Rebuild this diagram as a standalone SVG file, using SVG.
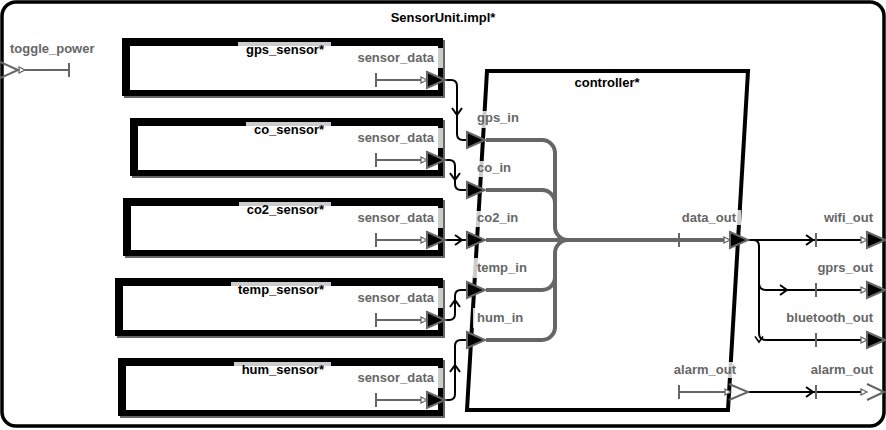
<svg xmlns="http://www.w3.org/2000/svg" xmlns:xlink="http://www.w3.org/1999/xlink" width="886" height="430" viewBox="0 0 886 430">
<style>
text{font-family:"Liberation Sans",Arial,sans-serif;font-size:13px;font-weight:bold}
.lbl{fill:#666}
.ttl{fill:#000}
.bg{fill:#fff;fill-opacity:0.8}
.stub{stroke:#666;stroke-width:2;fill:none}
.ha{fill:#fff;stroke:#666;stroke-width:1.3}
.tri{fill:#000;stroke:#666;stroke-width:2;stroke-linejoin:miter}
.open{fill:none;stroke:#666;stroke-width:2}
.conn{stroke:#000;stroke-width:2;fill:none}
.chev{stroke:#000;stroke-width:2;fill:none}
.flow{stroke:#666;stroke-width:4;fill:none}
.shadow{stroke:#666;stroke-width:2;fill:none}
</style>
<defs>
<path id="pt" d="M0,-8 L18,0 L0,8 Z"/>
<path id="sa" d="M-6,-3 L0,0 L-6,3 Z"/>
<path id="cv" d="M-7,-5 L0,0 L-7,5"/>
<path id="tk" d="M0,-7 V7"/>
</defs>

<g id="SensorUnit">
<rect x="2" y="2" width="882" height="424" rx="14" fill="#fff" stroke="#000" stroke-width="3.5"/>
<text class="ttl" x="443" y="22" text-anchor="middle">SensorUnit.impl*</text>
</g>

<g id="toggle_power">
<text class="lbl" x="10" y="53">toggle_power</text>
<path class="stub" d="M24,70 H69"/>
<use href="#tk" class="stub" x="69" y="70"/>
<use href="#sa" class="ha" transform="translate(25,70)"/>
<path class="open" d="M0,62 L18,70 L0,78"/>
</g>

<g id="gps_sensor">
<rect x="122" y="38" width="321" height="58" fill="#000"/>
<rect x="130" y="46" width="308" height="44" fill="#fff"/>
<path class="shadow" d="M124,97 H444 V40"/>
<rect class="bg" x="238" y="42" width="93" height="16"/>
<text class="ttl" x="324" y="54" text-anchor="end">gps_sensor*</text>
<rect class="bg" x="349" y="48" width="94" height="20"/>
<text class="lbl" x="434" y="62" text-anchor="end">sensor_data</text>
</g>

<g id="co_sensor">
<rect x="130" y="118" width="313" height="58" fill="#000"/>
<rect x="138" y="126" width="300" height="44" fill="#fff"/>
<path class="shadow" d="M132,177 H444 V120"/>
<rect class="bg" x="246" y="122" width="85" height="16"/>
<text class="ttl" x="324" y="134" text-anchor="end">co_sensor*</text>
<rect class="bg" x="349" y="128" width="94" height="20"/>
<text class="lbl" x="434" y="142" text-anchor="end">sensor_data</text>
</g>

<g id="co2_sensor">
<rect x="123" y="198" width="320" height="58" fill="#000"/>
<rect x="131" y="206" width="307" height="44" fill="#fff"/>
<path class="shadow" d="M125,257 H444 V200"/>
<rect class="bg" x="239" y="202" width="92" height="16"/>
<text class="ttl" x="324" y="214" text-anchor="end">co2_sensor*</text>
<rect class="bg" x="349" y="208" width="94" height="20"/>
<text class="lbl" x="434" y="222" text-anchor="end">sensor_data</text>
</g>

<g id="temp_sensor">
<rect x="115" y="278" width="328" height="58" fill="#000"/>
<rect x="123" y="286" width="315" height="44" fill="#fff"/>
<path class="shadow" d="M117,337 H444 V280"/>
<rect class="bg" x="231" y="282" width="100" height="16"/>
<text class="ttl" x="324" y="294" text-anchor="end">temp_sensor*</text>
<rect class="bg" x="349" y="288" width="94" height="20"/>
<text class="lbl" x="434" y="302" text-anchor="end">sensor_data</text>
</g>

<g id="hum_sensor">
<rect x="118" y="358" width="325" height="58" fill="#000"/>
<rect x="126" y="366" width="312" height="44" fill="#fff"/>
<path class="shadow" d="M120,417 H444 V360"/>
<rect class="bg" x="234" y="362" width="97" height="16"/>
<text class="ttl" x="324" y="374" text-anchor="end">hum_sensor*</text>
<rect class="bg" x="349" y="368" width="94" height="20"/>
<text class="lbl" x="434" y="382" text-anchor="end">sensor_data</text>
</g>

<g id="controller">
<path d="M487,71 L748,71 L728,410 L467,410 Z" fill="#fff" stroke="#000" stroke-width="4" stroke-linejoin="miter"/>
<text class="ttl" x="607" y="87" text-anchor="middle">controller*</text>
<rect class="bg" x="473" y="111" width="50" height="17"/>
<text class="lbl" x="477" y="122">gps_in</text>
<rect class="bg" x="473" y="161" width="42" height="16"/>
<text class="lbl" x="477" y="172">co_in</text>
<rect class="bg" x="473" y="211" width="52" height="16"/>
<text class="lbl" x="477" y="222">co2_in</text>
<rect class="bg" x="473" y="258" width="60" height="20"/>
<text class="lbl" x="477" y="272">temp_in</text>
<rect class="bg" x="473" y="308" width="56" height="20"/>
<text class="lbl" x="477" y="322">hum_in</text>
<rect class="bg" x="679" y="210" width="62" height="15"/>
<text class="lbl" x="736" y="222" text-anchor="end">data_out</text>
<rect class="bg" x="673" y="362" width="60" height="16"/>
<text class="lbl" x="736" y="374" text-anchor="end">alarm_out</text>
</g>

<g id="outputs">
<text class="lbl" x="873" y="222" text-anchor="end">wifi_out</text>
<text class="lbl" x="873" y="272" text-anchor="end">gprs_out</text>
<text class="lbl" x="873" y="322" text-anchor="end">bluetooth_out</text>
<text class="lbl" x="873" y="374" text-anchor="end">alarm_out</text>
</g>

<g id="connectors">
<!-- sensor port stubs -->
<path class="stub" d="M376,80 H421 M376,160 H421 M376,240 H421 M376,320 H421 M376,400 H421"/>
<path class="stub" d="M376,73 V87 M376,153 V167 M376,233 V247 M376,313 V327 M376,393 V407"/>
<use href="#sa" class="ha" transform="translate(427,80)"/>
<use href="#sa" class="ha" transform="translate(427,160)"/>
<use href="#sa" class="ha" transform="translate(427,240)"/>
<use href="#sa" class="ha" transform="translate(427,320)"/>
<use href="#sa" class="ha" transform="translate(427,400)"/>

<!-- sensor to controller -->
<path class="conn" d="M445,80 H451 Q457,80 457,86 V134 Q457,140 463,140 H467"/>
<use href="#cv" class="chev" transform="translate(457,115) rotate(90)"/>
<path class="conn" d="M445,160 H449 Q455,160 455,166 V184 Q455,190 461,190 H467"/>
<use href="#cv" class="chev" transform="translate(455,180) rotate(90)"/>
<path class="conn" d="M445,240 H467"/>
<use href="#cv" class="chev" transform="translate(462,240)"/>
<path class="conn" d="M445,320 H449 Q455,320 455,314 V296 Q455,290 461,290 H467"/>
<use href="#cv" class="chev" transform="translate(455,300) rotate(-90)"/>
<path class="conn" d="M445,400 H449 Q455,400 455,394 V346 Q455,340 461,340 H467"/>
<use href="#cv" class="chev" transform="translate(455,365) rotate(-90)"/>

<!-- controller internal flows -->
<path class="flow" d="M486,140 H542 A13,13 0 0 1 555,153 V227 A13,13 0 0 0 568,240"/>
<path class="flow" d="M486,190 H542 A13,13 0 0 1 555,203 V227"/>
<path class="flow" d="M486,290 H542 A13,13 0 0 0 555,277 V253 A13,13 0 0 1 568,240"/>
<path class="flow" d="M486,340 H542 A13,13 0 0 0 555,327 V277"/>
<path class="flow" d="M486,240 H724"/>
<use href="#tk" class="stub" x="679" y="240"/>
<use href="#sa" class="ha" transform="translate(730,240)"/>

<!-- controller alarm stub -->
<path class="stub" d="M679,392 H725"/>
<use href="#tk" class="stub" x="679" y="392"/>
<use href="#sa" class="ha" transform="translate(731,392)"/>

<!-- controller to outputs -->
<path class="conn" d="M748,240 H862"/>
<use href="#cv" class="chev" transform="translate(813,240)"/>
<path class="conn" d="M750,240 H753 Q759,240 759,246 V283 Q759,290 766,290 H862"/>
<use href="#cv" class="chev" transform="translate(787,290)"/>
<path class="conn" d="M759,283 V333 Q759,340 766,340 H862"/>
<use href="#cv" class="chev" transform="translate(759,342) rotate(90) scale(0.8)"/>
<path class="conn" d="M748,392 H862"/>
<use href="#cv" class="chev" transform="translate(813,392)"/>
<path class="stub" d="M816,233 V247 M816,283 V297 M816,333 V347 M816,385 V399"/>
<use href="#sa" class="ha" transform="translate(867,240)"/>
<use href="#sa" class="ha" transform="translate(867,290)"/>
<use href="#sa" class="ha" transform="translate(867,340)"/>
<use href="#sa" class="ha" transform="translate(867,392)"/>
</g>

<g id="ports">
<use href="#pt" class="tri" x="427" y="80"/>
<use href="#pt" class="tri" x="427" y="160"/>
<use href="#pt" class="tri" x="427" y="240"/>
<use href="#pt" class="tri" x="427" y="320"/>
<use href="#pt" class="tri" x="427" y="400"/>
<use href="#pt" class="tri" x="467" y="140"/>
<use href="#pt" class="tri" x="467" y="190"/>
<use href="#pt" class="tri" x="467" y="240"/>
<use href="#pt" class="tri" x="467" y="290"/>
<use href="#pt" class="tri" x="467" y="340"/>
<use href="#pt" class="tri" x="730" y="240"/>
<path class="open" d="M729,384 L748,392 L729,400"/>
<use href="#pt" class="tri" x="867" y="240"/>
<use href="#pt" class="tri" x="867" y="290"/>
<use href="#pt" class="tri" x="867" y="340"/>
<path class="open" d="M867,384 L884,392 L867,400"/>
</g>
</svg>
